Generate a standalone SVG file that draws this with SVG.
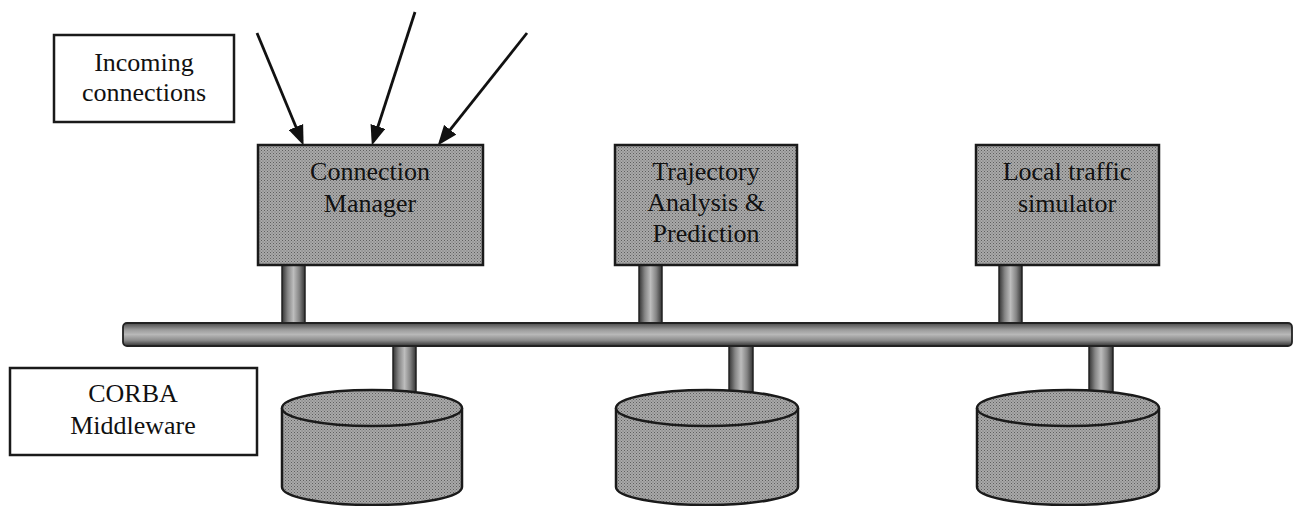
<svg xmlns="http://www.w3.org/2000/svg" width="1294" height="506" viewBox="0 0 1294 506">
  <style>
    .label { font-family: "Liberation Serif", "Times New Roman", serif; font-size: 26px; fill: #111; text-anchor: middle; }
    .note { fill: #ffffff; stroke: #1a1a1a; stroke-width: 2.5; }
    .module { fill: url(#halftone); stroke: #1a1a1a; stroke-width: 2.5; }
    .store { fill: url(#halftone); stroke: #1a1a1a; stroke-width: 2.5; }
    .pillar { fill: url(#pipeH); stroke: #222; stroke-width: 1.5; }
    .arrow { stroke: #111; stroke-width: 2.8; fill: none; marker-end: url(#head); }
  </style>
  <defs>
    <!-- stippled grey used for module boxes and data stores -->
    <pattern id="halftone" width="3" height="3" patternUnits="userSpaceOnUse">
      <rect width="3" height="3" fill="#a9a9a9"/>
      <rect x="0" y="0" width="1" height="1" fill="#5e5e5e"/>
      <rect x="1.5" y="1.5" width="1" height="1" fill="#6e6e6e"/>
    </pattern>
    <!-- shaded pipe, vertical pieces -->
    <linearGradient id="pipeH" x1="0" y1="0" x2="1" y2="0">
      <stop offset="0" stop-color="#333"/>
      <stop offset="0.25" stop-color="#858585"/>
      <stop offset="0.5" stop-color="#bdbdbd"/>
      <stop offset="0.75" stop-color="#858585"/>
      <stop offset="1" stop-color="#333"/>
    </linearGradient>
    <!-- shaded pipe, horizontal bus -->
    <linearGradient id="pipeV" x1="0" y1="0" x2="0" y2="1">
      <stop offset="0" stop-color="#4a4a4a"/>
      <stop offset="0.3" stop-color="#9c9c9c"/>
      <stop offset="0.5" stop-color="#b8b8b8"/>
      <stop offset="0.75" stop-color="#8c8c8c"/>
      <stop offset="1" stop-color="#333"/>
    </linearGradient>
    <marker id="head" markerUnits="userSpaceOnUse" markerWidth="20" markerHeight="16" viewBox="0 0 18 14" refX="14" refY="7" orient="auto">
      <path d="M0,0 L18,7 L0,14 z" fill="#111"/>
    </marker>
  </defs>

  <!-- connectors: incoming arrows, pipes and the middleware bus -->
  <g id="connectors">
    <line class="arrow" x1="257" y1="33" x2="301.9" y2="141.3"/>
    <line class="arrow" x1="415" y1="12" x2="373.2" y2="141.2"/>
    <line class="arrow" x1="527" y1="33" x2="440.5" y2="141.9"/>

    <rect class="pillar" x="282" y="264" width="23" height="60"/>
    <rect class="pillar" x="639" y="264" width="23" height="60"/>
    <rect class="pillar" x="999" y="264" width="23" height="60"/>

    <rect class="pillar" x="393" y="345" width="23" height="48"/>
    <rect class="pillar" x="729" y="345" width="24" height="48"/>
    <rect class="pillar" x="1089" y="345" width="24" height="48"/>

    <rect id="bus" x="123" y="323" width="1169" height="23" rx="4" fill="url(#pipeV)" stroke="#222" stroke-width="1.8"/>
  </g>

  <g id="incoming-note">
    <rect class="note" x="54" y="35" width="180" height="87"/>
    <text class="label" x="144" y="71">Incoming</text>
    <text class="label" x="144" y="101">connections</text>
  </g>

  <g id="corba-note">
    <rect class="note" x="10" y="368" width="247" height="87"/>
    <text class="label" x="133" y="402">CORBA</text>
    <text class="label" x="133" y="434">Middleware</text>
  </g>

  <g id="connection-manager">
    <rect class="module" x="258" y="145" width="225" height="120"/>
    <text class="label" x="370" y="180">Connection</text>
    <text class="label" x="370" y="212">Manager</text>
  </g>

  <g id="trajectory-analysis">
    <rect class="module" x="615" y="145" width="182" height="120"/>
    <text class="label" x="706" y="180">Trajectory</text>
    <text class="label" x="706" y="211">Analysis &amp;</text>
    <text class="label" x="706" y="242">Prediction</text>
  </g>

  <g id="traffic-simulator">
    <rect class="module" x="976" y="145" width="183" height="120"/>
    <text class="label" x="1067" y="180">Local traffic</text>
    <text class="label" x="1067" y="212">simulator</text>
  </g>

  <g id="store-1">
    <path class="store" d="M282,408 L282,487 A90,18 0 0 0 462,487 L462,408"/>
    <ellipse class="store" cx="372" cy="408" rx="90" ry="18"/>
  </g>

  <g id="store-2">
    <path class="store" d="M616,408 L616,487 A91,18 0 0 0 798,487 L798,408"/>
    <ellipse class="store" cx="707" cy="408" rx="91" ry="18"/>
  </g>

  <g id="store-3">
    <path class="store" d="M977,408 L977,487 A91,18 0 0 0 1159,487 L1159,408"/>
    <ellipse class="store" cx="1068" cy="408" rx="91" ry="18"/>
  </g>
</svg>
